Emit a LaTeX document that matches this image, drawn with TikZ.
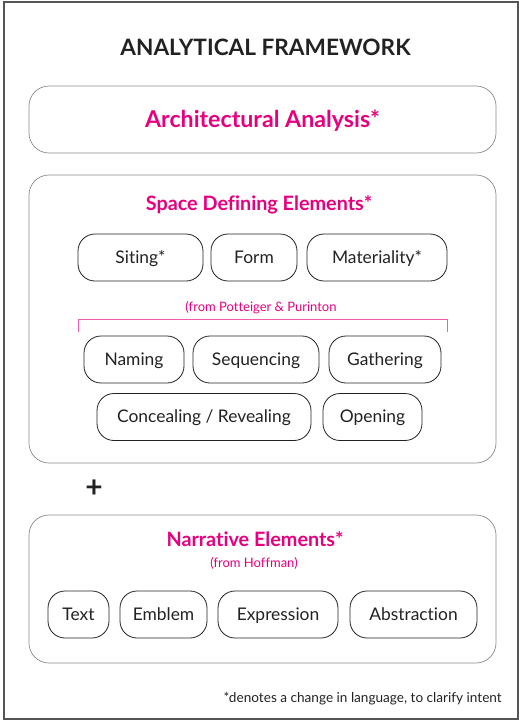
\documentclass[tikz,border=0pt]{standalone}
\usepackage{fontspec}
\setmainfont{Lato}[Ligatures=NoCommon]
\usetikzlibrary{positioning}
\definecolor{magenta}{HTML}{E6007E}
\definecolor{pinkline}{HTML}{F25CB0}
\definecolor{framegray}{HTML}{555555}
\definecolor{boxgray}{HTML}{8A8A8A}
\definecolor{ink}{HTML}{222222}

\begin{document}
\begin{tikzpicture}[x=1pt,y=-1pt,font=\fontsize{17.4}{19}\selectfont,
  bigbox/.style={draw=boxgray,line width=0.7pt,rounded corners=20pt,inner sep=0pt},
  pill/.style={draw=ink,line width=0.8pt,rounded corners=17pt,minimum height=47pt,inner sep=0pt,text=ink,text height=12.5pt,text depth=1pt},
  head/.style={text=magenta,font=\fontsize{19.8}{22}\selectfont\bfseries,inner sep=0pt,text height=14.2pt,text depth=0pt},
  source/.style={text=magenta,font=\fontsize{13}{15}\selectfont,inner sep=0pt,text height=9.4pt,text depth=0pt}]
  \useasboundingbox (0,0) rectangle (519,721);
  \draw[framegray,line width=1.4pt] (4,2) rectangle (518,719); %frame
  \node[text=ink,font=\fontsize{22.6}{24}\selectfont\bfseries,inner sep=0pt,text height=16.2pt,text depth=0pt] (title) at (265.5,47) {ANALYTICAL FRAMEWORK};

  \node[bigbox,minimum width=467pt,minimum height=67pt] (analysis) at (262.5,119.5) {};
  \node[head,font=\fontsize{23.2}{25}\selectfont\bfseries,text height=16.6pt] (analysistxt) at (262.5,119) {Architectural Analysis*};

  \node[bigbox,minimum width=467pt,minimum height=288pt] (spacebox) at (262.5,319) {};
  \node[head] (spacetxt) at (259,203) {Space Defining Elements*};
  \node[pill,minimum width=125pt] (siting) at (140.5,257.5) {Siting*};
  \node[pill,minimum width=86pt] (form) at (254,257.5) {Form};
  \node[pill,minimum width=140pt] (materiality) at (377,257.5) {Materiality*};

  \node[source] (potteiger) at (261,307) {(from Potteiger \& Purinton};
  \coordinate (bl) at (78,332);
  \coordinate (br) at (447,332);
  \draw[pinkline,line width=0.8pt] (bl) -- ++(0,-13) -- ++(369,0) -- (br); %bracket

  \node[pill,minimum width=100pt] (naming) at (134,359.5) {Naming};
  \node[pill,minimum width=126pt] (sequencing) at (256,359.5) {Sequencing};
  \node[pill,minimum width=112pt] (gathering) at (385,359.5) {Gathering};
  \node[pill,minimum width=214pt] (concealing) at (204,417) {Concealing / Revealing};
  \node[pill,minimum width=99pt] (opening) at (372.5,417) {Opening};

  \node[text=ink,font=\fontsize{30}{30}\selectfont\bfseries] (plus) at (94,489) {+};

  \node[bigbox,minimum width=467pt,minimum height=148pt] (narrbox) at (262.5,589) {};
  \node[head] (narrtxt) at (255,539) {Narrative Elements*};
  \node[source] (hoffman) at (254,563) {(from Hoffman)};
  \node[pill,minimum width=61pt] (text) at (78.5,614.5) {Text};
  \node[pill,minimum width=87pt] (emblem) at (163.5,614.5) {Emblem};
  \node[pill,minimum width=120pt] (expression) at (278,614.5) {Expression};
  \node[pill,minimum width=127pt] (abstraction) at (413.5,614.5) {Abstraction};

  \node[text=ink,font=\fontsize{13.6}{15}\selectfont,anchor=east,inner sep=0pt,text height=9.8pt,text depth=0pt] (note) at (502,697.5) {*denotes a change in language, to clarify intent};
\end{tikzpicture}
\end{document}
